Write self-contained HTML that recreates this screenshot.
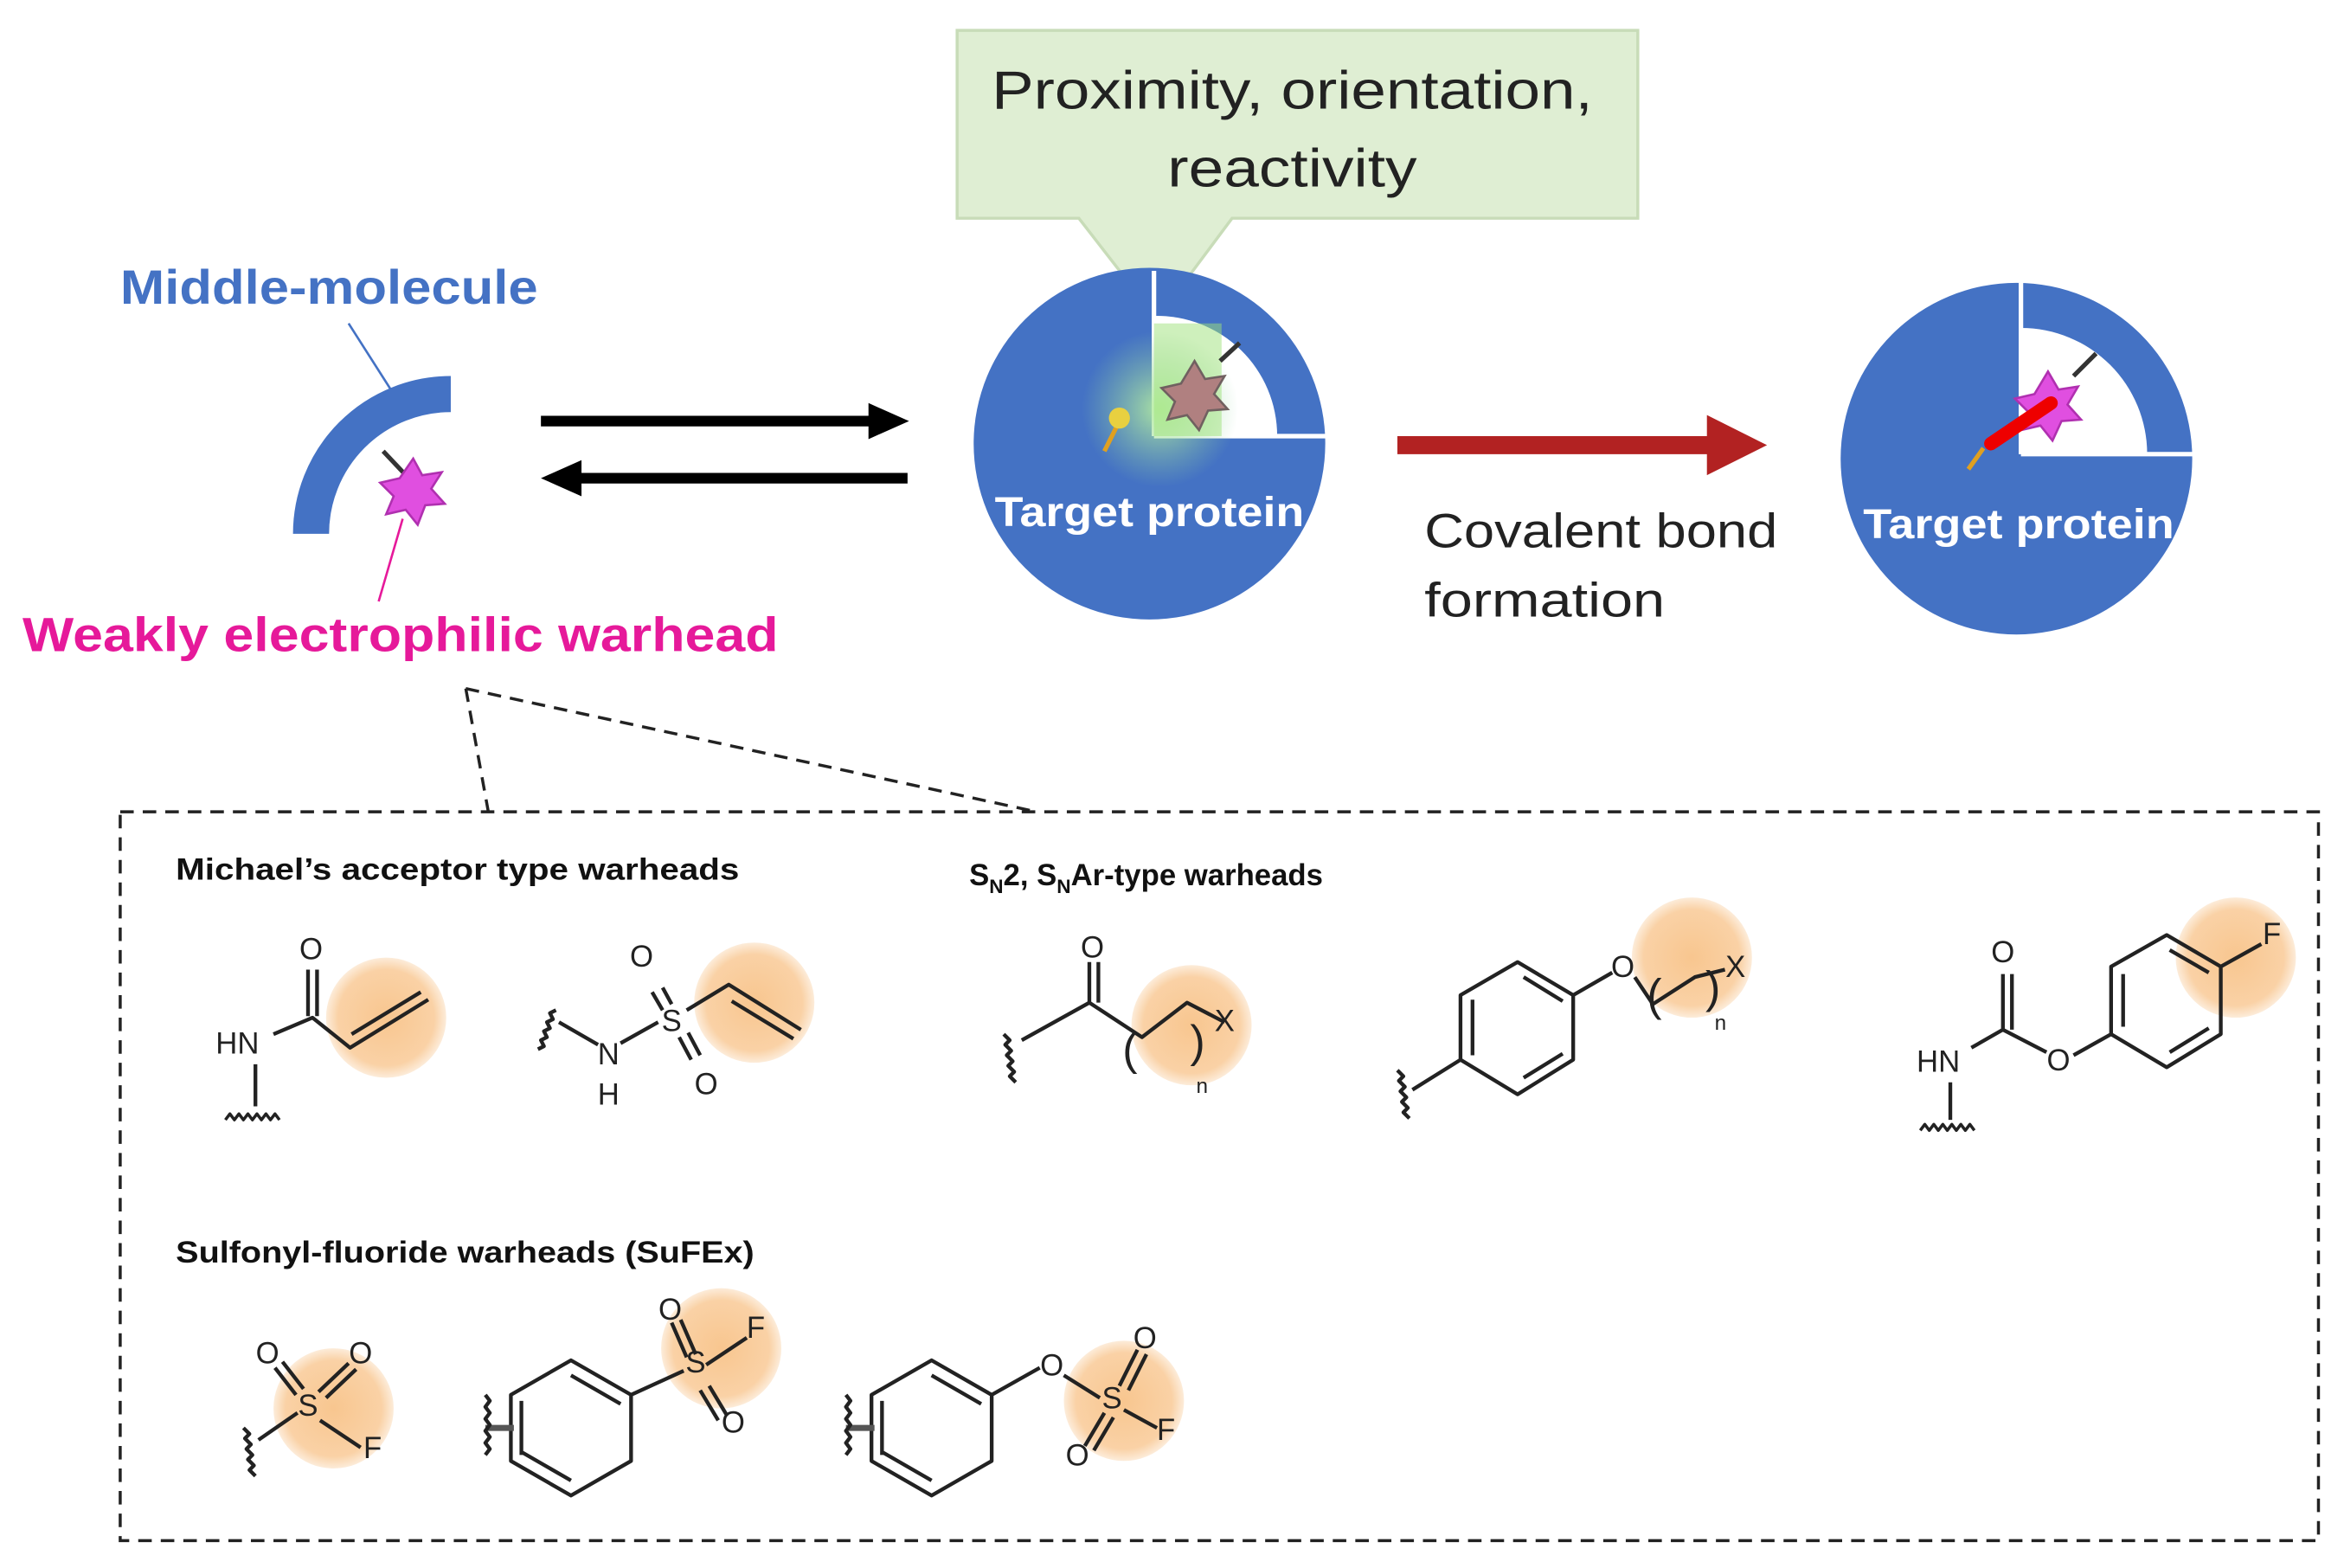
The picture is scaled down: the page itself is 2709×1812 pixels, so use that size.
<!DOCTYPE html>
<html><head><meta charset="utf-8"><style>
html,body{margin:0;padding:0;background:#fff;width:2709px;height:1812px;overflow:hidden}
svg{display:block}
text{font-family:"Liberation Sans",sans-serif}
</style></head><body>
<svg width="2709" height="1812" viewBox="0 0 1560 1043" xmlns="http://www.w3.org/2000/svg">
<defs>
<radialGradient id="glow"><stop offset="0" stop-color="#b8f0a0" stop-opacity="0.9"/><stop offset="1" stop-color="#8fd0a0" stop-opacity="0"/></radialGradient>
<radialGradient id="or"><stop offset="0" stop-color="#f6b36a" stop-opacity="0.75"/><stop offset="0.8" stop-color="#f6b36a" stop-opacity="0.6"/><stop offset="1" stop-color="#f6b36a" stop-opacity="0.25"/></radialGradient>
</defs>
<!-- callout -->
<path d="M637,20 H1090 V145 H820 L770,212 L718,145 H637 Z" fill="#dfeed3" stroke="#c8dcb8" stroke-width="2"/>
<text x="660" y="72" font-size="36" textLength="400" lengthAdjust="spacingAndGlyphs" fill="#222">Proximity, orientation,</text>
<text x="777" y="124" font-size="36" textLength="166" lengthAdjust="spacingAndGlyphs" fill="#222">reactivity</text>

<text x="80" y="202" font-size="32" font-weight="bold" textLength="278" lengthAdjust="spacingAndGlyphs" fill="#4472c4">Middle-molecule</text>
<line x1="232" y1="215" x2="262" y2="262" stroke="#4472c4" stroke-width="1.5"/>
<path d="M207,355 A93,93 0 0 1 300,262" fill="none" stroke="#4472c4" stroke-width="24"/>
<line x1="255" y1="300" x2="272" y2="318" stroke="#333" stroke-width="3"/>
<polygon points="275,305 281,316 294,314 287,325 296,335 283,336 278,349 270,339 257,342 262,330 253,321 266,318" fill="#e04fe0" stroke="#b030b0" stroke-width="1.5"/>
<line x1="268" y1="345" x2="252" y2="400" stroke="#e6199a" stroke-width="1.5"/>
<text x="15" y="433" font-size="32" font-weight="bold" textLength="503" lengthAdjust="spacingAndGlyphs" fill="#e6199a">Weakly electrophilic warhead</text>

<!-- equilibrium arrows -->
<line x1="360" y1="280" x2="580" y2="280" stroke="#000" stroke-width="7"/>
<polygon points="605,280 578,268 578,292" fill="#000"/>
<line x1="385" y1="318" x2="604" y2="318" stroke="#000" stroke-width="7"/>
<polygon points="360,318 387,306 387,330" fill="#000"/>

<!-- target protein 1 -->
<circle cx="765" cy="295" r="117" fill="#4472c4"/>
<path d="M768,290 V210 A80,80 0 0 1 850,290 Z" fill="#fff"/>
<line x1="768" y1="290" x2="768" y2="180" stroke="#fff" stroke-width="3"/>
<line x1="768" y1="290" x2="882" y2="290" stroke="#fff" stroke-width="3"/>
<circle cx="772" cy="272" r="52" fill="url(#glow)"/>
<rect x="768" y="215" width="45" height="75" fill="#9ee27a" opacity="0.5"/>
<line x1="812" y1="240" x2="825" y2="228" stroke="#333" stroke-width="3"/>
<polygon points="795,240 802,252 815,250 808,262 817,272 804,273 798,286 790,276 777,279 782,267 773,258 786,255" fill="#b08080" stroke="#706060" stroke-width="1.5"/>
<line x1="745" y1="280" x2="735" y2="300" stroke="#e0a020" stroke-width="3"/>
<circle cx="745" cy="278" r="7" fill="#e8d040"/>
<text x="662" y="350" font-size="28" font-weight="bold" textLength="206" lengthAdjust="spacingAndGlyphs" fill="#fff">Target protein</text>

<!-- red arrow -->
<line x1="930" y1="296" x2="1140" y2="296" stroke="#b22222" stroke-width="12"/>
<polygon points="1176,296 1136,276 1136,316" fill="#b22222"/>
<text x="948" y="364" font-size="32" textLength="235" lengthAdjust="spacingAndGlyphs" fill="#222">Covalent bond</text>
<text x="948" y="410" font-size="32" textLength="160" lengthAdjust="spacingAndGlyphs" fill="#222">formation</text>

<!-- target protein 2 -->
<circle cx="1342" cy="305" r="117" fill="#4472c4"/>
<path d="M1345,302 V218 A84,84 0 0 1 1429,302 Z" fill="#fff"/>
<line x1="1345" y1="302" x2="1345" y2="188" stroke="#fff" stroke-width="3"/>
<line x1="1345" y1="302" x2="1459" y2="302" stroke="#fff" stroke-width="3"/>
<line x1="1380" y1="250" x2="1395" y2="235" stroke="#333" stroke-width="3"/>
<polygon points="1363,247 1370,259 1383,257 1376,269 1385,279 1372,280 1366,293 1358,283 1345,286 1350,274 1341,265 1354,262" fill="#e04fe0" stroke="#b030b0" stroke-width="1.5"/>
<line x1="1325" y1="295" x2="1365" y2="268" stroke="#e00" stroke-width="9" stroke-linecap="round"/>
<line x1="1320" y1="298" x2="1310" y2="312" stroke="#e0a020" stroke-width="3"/>
<text x="1240" y="358" font-size="28" font-weight="bold" textLength="207" lengthAdjust="spacingAndGlyphs" fill="#fff">Target protein</text>

<!-- dashed box -->
<g stroke="#222" stroke-width="2" stroke-dasharray="9,6" fill="none">
<rect x="80" y="540" width="1463" height="485"/>
<line x1="310" y1="458" x2="325" y2="540"/>
<line x1="310" y1="458" x2="690" y2="540"/>
</g>
<text x="117" y="585" font-size="20" font-weight="bold" textLength="375" lengthAdjust="spacingAndGlyphs" fill="#111">Michael’s acceptor type warheads</text>
<text x="645" y="589" font-size="20" font-weight="bold" fill="#111">S<tspan font-size="13" dy="5">N</tspan><tspan dy="-5">2, S</tspan><tspan font-size="13" dy="5">N</tspan><tspan dy="-5">Ar-type warheads</tspan></text>
<text x="117" y="840" font-size="20" font-weight="bold" textLength="385" lengthAdjust="spacingAndGlyphs" fill="#111">Sulfonyl-fluoride warheads (SuFEx)</text>

<!-- orange highlights -->
<g fill="url(#or)">
<circle cx="257" cy="677" r="40"/><circle cx="502" cy="667" r="40"/>
<circle cx="793" cy="682" r="40"/><circle cx="1126" cy="637" r="40"/>
<circle cx="1488" cy="637" r="40"/><circle cx="222" cy="937" r="40"/>
<circle cx="480" cy="897" r="40"/><circle cx="748" cy="932" r="40"/>
</g>
<!-- structures -->
<g stroke="#222" stroke-width="2.5" fill="none" stroke-linejoin="round">
<!-- acrylamide -->
<path d="M205,645 V676 M211,645 V676 M182,688 L208,677 L233,697 L285,665 M234,688 L280,660 M170,708 V736"/>
<path d="M150,745 l3,-4 l3,4 l3,-4 l3,4 l3,-4 l3,4 l3,-4 l3,4 l3,-4 l3,4 l3,-4 l3,4" stroke-width="2"/>
<!-- vinyl sulfonamide -->
<path d="M372,680 L398,695 M413,694 L438,680 M457,672 L485,655 L533,685 M487,666 L528,691 M434,660 L441,672 M441,657 L447,668 M452,690 L460,705 M458,687 L466,702"/>
<path d="M358,698 l4,-2 l-2,-4 l4,-2 l-2,-4 l4,-2 l-2,-4 l4,-2 l-2,-4 l4,-2" stroke-width="2.5"/>
<!-- SN2 alkyl -->
<path d="M680,692 L725,667 V640 M731,667 V640 M725,667 L760,690 L790,667 L815,680"/>
<path d="M668,688 l4,4 l-3,3 l4,4 l-3,3 l4,4 l-3,3 l4,4 l-3,3 l4,4" stroke-width="2.5"/>
<!-- aryl ether -->
<path d="M1010,640 L1047,662 V705 L1010,728 L972,705 V662 Z M1014,650 L1040,666 M980,665 V702 M1040,701 L1014,717 M972,705 L940,725 M1047,662 L1073,647 M1088,650 L1100,668 L1128,650 L1148,645"/>
<path d="M930,712 l4,4 l-3,3 l4,4 l-3,3 l4,4 l-3,3 l4,4 l-3,3 l4,4" stroke-width="2.5"/>
<!-- aryl carbamate -->
<path d="M1442,622 L1478,643 V688 L1442,710 L1405,688 V643 Z M1444,632 L1470,647 M1413,648 V683 M1470,684 L1444,700 M1478,643 L1505,628 M1405,688 L1380,702 M1362,700 L1333,685 V648 M1339,685 V648 M1333,685 L1312,697 M1298,720 V745"/>
<path d="M1278,752 l3,-4 l3,4 l3,-4 l3,4 l3,-4 l3,4 l3,-4 l3,4 l3,-4 l3,4 l3,-4 l3,4" stroke-width="2"/>
<!-- SF1 -->
<path d="M172,958 L198,940 M213,945 L240,963 M183,910 L197,928 M188,906 L202,924 M232,907 L212,926 M237,911 L217,930"/>
<path d="M162,950 l4,4 l-3,3 l4,4 l-3,3 l4,4 l-3,3 l4,4 l-3,3 l4,4" stroke-width="2.5"/>
<!-- SF2 -->
<path d="M380,905 L420,928 V972 L380,995 L340,972 V928 Z M380,915 L413,934 M347,932 V968 M380,985 L347,966 M420,928 L455,912 M470,908 L497,890 M447,880 L457,903 M453,878 L463,901 M466,925 L478,945 M472,922 L484,942"/>
<path d="M323,950 H342" stroke="#555" stroke-width="4"/>
<path d="M323,928 l3,4 l-3,4 l3,4 l-3,4 l3,4 l-3,4 l3,4 l-3,4 l3,4 l-3,4" stroke-width="2.5"/>
<!-- SF3 -->
<path d="M620,905 L660,928 V972 L620,995 L580,972 V928 Z M620,915 L653,934 M587,932 V968 M620,985 L587,966 M660,928 L692,910 M708,915 L732,930 M748,938 L770,950 M745,922 L757,898 M751,925 L763,901 M735,940 L722,962 M741,943 L728,965"/>
<path d="M563,950 H582" stroke="#555" stroke-width="4"/>
<path d="M563,928 l3,4 l-3,4 l3,4 l-3,4 l3,4 l-3,4 l3,4 l-3,4 l3,4 l-3,4" stroke-width="2.5"/>
</g>
<g font-size="20" fill="#222" text-anchor="middle">
<text x="207" y="638">O</text><text x="158" y="701">HN</text>
<text x="447" y="686">S</text><text x="427" y="643">O</text><text x="470" y="728">O</text><text x="405" y="708">N</text><text x="405" y="735">H</text>
<text x="727" y="637">O</text><text x="815" y="686">X</text><text x="752" y="708" font-size="30">(</text><text x="797" y="703" font-size="30">)</text><text x="800" y="727" font-size="14">n</text>
<text x="1080" y="650">O</text><text x="1155" y="650">X</text><text x="1101" y="672" font-size="30">(</text><text x="1140" y="667" font-size="30">)</text><text x="1145" y="685" font-size="14">n</text>
<text x="1333" y="640">O</text><text x="1290" y="713">HN</text><text x="1370" y="712">O</text><text x="1512" y="628">F</text>
<text x="205" y="942">S</text><text x="178" y="907">O</text><text x="240" y="907">O</text><text x="248" y="970">F</text>
<text x="463" y="913">S</text><text x="446" y="878">O</text><text x="488" y="953">O</text><text x="503" y="890">F</text>
<text x="700" y="915">O</text><text x="740" y="937">S</text><text x="762" y="897">O</text><text x="717" y="975">O</text><text x="776" y="958">F</text>
</g>
</svg>
</body></html>
